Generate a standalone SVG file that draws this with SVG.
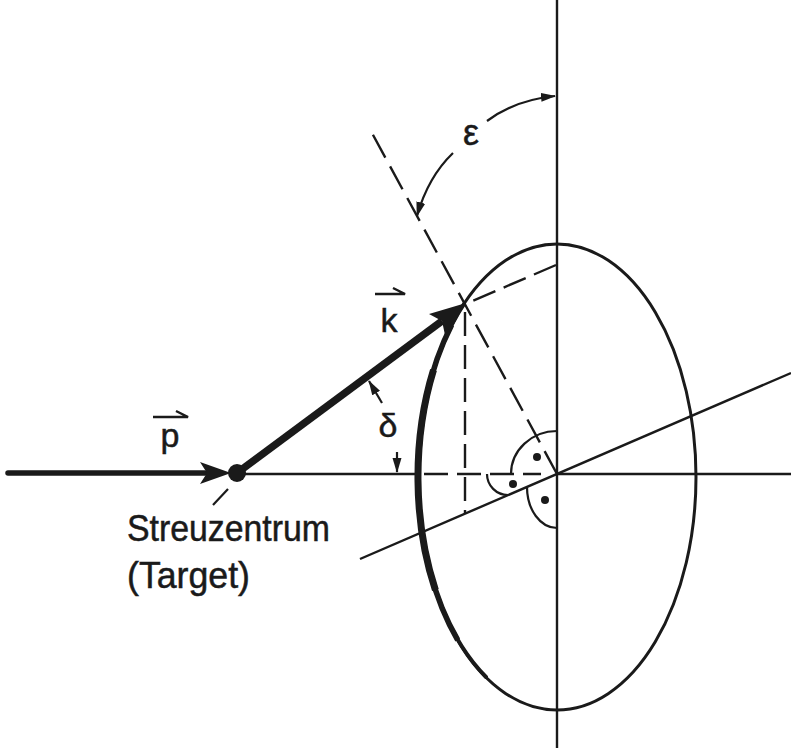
<svg xmlns="http://www.w3.org/2000/svg" width="791" height="748" viewBox="0 0 791 748">
  <defs>
    <marker id="ah" markerUnits="userSpaceOnUse" markerWidth="15" markerHeight="10" refX="14" refY="4.5" orient="auto">
      <path d="M0,0 L15,4.5 L0,9 Z" fill="#1a1a1a"/>
    </marker>
    <style>
      .thin { stroke: #1a1a1a; stroke-width: 2.4; fill: none; }
      .dash { stroke: #1a1a1a; stroke-width: 2.4; fill: none; stroke-dasharray: 24 9; }
      .arc { stroke: #1a1a1a; stroke-width: 2.2; fill: none; }
      .ink { fill: #1a1a1a; }
      .rim { fill: none; stroke: #1a1a1a; }
      .lbl { font-family: "Liberation Sans", Arial, sans-serif; fill: #1a1a1a; stroke: #1a1a1a; stroke-width: 0.5; }
    </style>
  </defs>
  <rect width="791" height="748" fill="#ffffff"/>

  <g id="axes">
    <line class="thin" x1="557" y1="0" x2="557" y2="748"/>
    <line class="thin" x1="236" y1="474" x2="420" y2="474"/>
    <line class="thin" x1="557" y1="474" x2="791" y2="474"/>
    <line class="thin" x1="360" y1="559" x2="791" y2="373"/>
  </g>

  <g id="ellipse">
    <ellipse cx="557" cy="477" rx="139" ry="233" fill="none" stroke="#1a1a1a" stroke-width="3"/>
    <path class="rim" d="M464,304 A139,233 0 0 0 486,677" stroke-width="4" stroke-linecap="round"/>
    <path class="rim" d="M451.6,325 A139,233 0 0 0 457.7,640" stroke-width="5.5"/>
    <path class="rim" d="M433.5,370 A139,233 0 0 0 435.4,590" stroke-width="7"/>
  </g>

  <g id="construction">
    <line class="dash" x1="424" y1="474" x2="541" y2="474"/>
    <line class="dash" x1="465" y1="312" x2="465" y2="514"/>
    <line class="dash" x1="557" y1="474" x2="372" y2="133" style="stroke-dasharray: 26 10"/>
    <line class="dash" x1="556" y1="265" x2="470" y2="302"/>
  </g>

  <g id="right-angles">
    <path class="arc" d="M557,431 A46,43 0 0 0 511,474"/>
    <circle class="ink" cx="537" cy="457" r="4"/>
    <path class="arc" d="M487,474 A21,21 0 0 0 508,495"/>
    <circle class="ink" cx="513" cy="484" r="4"/>
    <path class="arc" d="M527,487 A30,41 0 0 0 557,528"/>
    <circle class="ink" cx="545" cy="500" r="4"/>
  </g>

  <g id="vector-p">
    <line x1="8" y1="473" x2="205" y2="473" stroke="#1a1a1a" stroke-width="5.5" stroke-linecap="round"/>
    <polygon class="ink" points="200,462 231,473 200,484 207,473"/>
  </g>

  <g id="vector-k">
    <line x1="237" y1="473" x2="442" y2="321" stroke="#1a1a1a" stroke-width="7.5"/>
    <polygon class="ink" points="466,303 445,335 442,321 429,314"/>
  </g>

  <g id="target">
    <circle class="ink" cx="237" cy="473" r="9"/>
    <line x1="228" y1="489" x2="213" y2="505" stroke="#1a1a1a" stroke-width="2.2"/>
    <text class="lbl" x="127" y="541" font-size="36" textLength="203" lengthAdjust="spacingAndGlyphs">Streuzentrum</text>
    <text class="lbl" x="127" y="588" font-size="36" textLength="123" lengthAdjust="spacingAndGlyphs">(Target)</text>
  </g>

  <g id="label-p">
    <text class="lbl" x="170" y="447" font-size="34" text-anchor="middle">p</text>
    <path d="M153,417 L188,417 L176,411" fill="none" stroke="#1a1a1a" stroke-width="2.5"/>
  </g>

  <g id="label-k">
    <text class="lbl" x="389" y="332" font-size="34" text-anchor="middle">k</text>
    <path d="M375,294 L405,294 L393,288" fill="none" stroke="#1a1a1a" stroke-width="2.5"/>
  </g>

  <g id="angle-delta">
    <text class="lbl" x="388" y="437" font-size="34" text-anchor="middle">δ</text>
    <line class="arc" x1="397" y1="452" x2="397" y2="472" marker-end="url(#ah)"/>
    <line class="arc" x1="382" y1="403" x2="369" y2="381" marker-end="url(#ah)"/>
  </g>

  <g id="angle-epsilon">
    <text class="lbl" x="471" y="145" font-size="36" text-anchor="middle">ε</text>
    <path class="arc" d="M487,121 Q515,100 555,96" marker-end="url(#ah)"/>
    <path class="arc" d="M453,153 Q428,177 417,216" marker-end="url(#ah)"/>
  </g>
</svg>
